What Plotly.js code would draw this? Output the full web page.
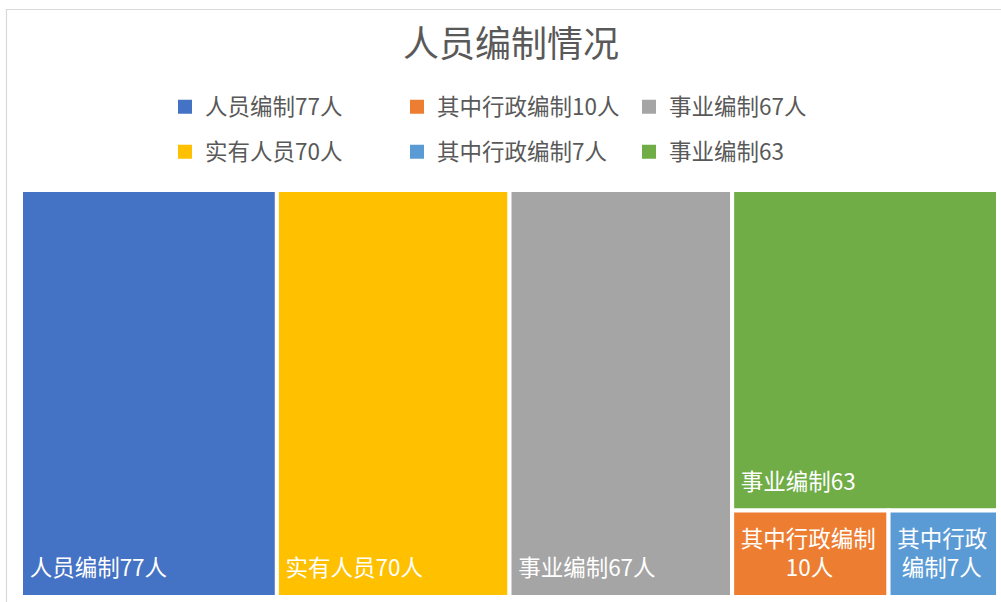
<!DOCTYPE html>
<html>
<head>
<meta charset="utf-8">
<script src="https://cdn.plot.ly/plotly-3.0.1.min.js"></script>
<style>
html,body{margin:0;padding:0;background:#fff;}
#chart{width:1001px;height:602px;}
</style>
</head>
<body>
<div id="chart"></div>
<script>
// ---- data ----
const labels = ['人员编制77人', '其中行政编制10人', '事业编制67人', '实有人员70人', '其中行政编制7人', '事业编制63'];
const values = [77, 10, 67, 70, 7, 63];
// tile label lines (long labels wrap in small tiles)
const tileLines = [['人员编制77人'], ['其中行政编制', '10人'], ['事业编制67人'], ['实有人员70人'], ['其中行政', '编制7人'], ['事业编制63']];
const colors = ['#4472C4', '#ED7D31', '#A5A5A5', '#FFC000', '#5B9BD5', '#70AD47'];
const titleText = '人员编制情况';

const FONT = '"Noto Sans CJK SC", "Microsoft YaHei", sans-serif';
const NB = '\u00A0';
const LABEL_PX = 22.5;

// measure text to centre wrapped lines (Excel centres wrapped labels)
const ctx = document.createElement('canvas').getContext('2d');
ctx.font = LABEL_PX + 'px ' + FONT;
const thin = '\u2009';
const thinW = ctx.measureText(thin).width || 4;
function centred(lines) {
  if (lines.length < 2) return lines;
  const ws = lines.map(l => ctx.measureText(l).width);
  const maxW = Math.max.apply(null, ws);
  return lines.map((l, i) => thin.repeat(Math.round((maxW - ws[i]) / 2 / thinW)) + l);
}
const tileText = tileLines.map(lines =>
  centred(lines).map(l => '<span style="font-size:' + LABEL_PX + 'px">\u2005' + l + '</span>').join('<br>' + NB + '<br>') + '<br>' + NB
);

const traces = [];
traces.push({
  type: 'treemap',
  labels: labels,
  parents: labels.map(() => ''),
  values: values,
  text: tileText,
  texttemplate: '%{text}',
  textposition: 'bottom left',
  sort: true,
  branchvalues: 'total',
  marker: {colors: colors, line: {color: '#ffffff', width: 4}, pad: {t: 0, l: 0, r: 0, b: 0}},
  tiling: {packing: 'squarify', squarifyratio: 1, pad: 0},
  pathbar: {visible: false},
  textfont: {family: FONT, size: 11.4, color: '#ffffff'},
  insidetextfont: {family: FONT, size: 11.4, color: '#ffffff'},
  domain: {x: [21 / 1001, 998 / 1001], y: [1 - 597 / 602, 1 - 190 / 602]},
  hoverinfo: 'label+value',
  showlegend: false
});

labels.forEach((name, i) => {
  traces.push({
    type: 'scatter', mode: 'markers',
    x: [null], y: [null],
    name: name,
    marker: {symbol: 'square', size: 14, color: colors[i]},
    legend: i < 3 ? 'legend' : 'legend2',
    showlegend: true,
    hoverinfo: 'skip'
  });
});

const legendBase = {
  orientation: 'h',
  entrywidth: 187, entrywidthmode: 'pixels',
  xanchor: 'left', yanchor: 'middle',
  x: 165 / 1001,
  font: {family: FONT, size: 22.5, color: '#595959'},
  bgcolor: 'rgba(0,0,0,0)',
  borderwidth: 0,
  itemclick: false, itemdoubleclick: false
};

const layout = {
  width: 1001, height: 602,
  margin: {l: 0, r: 0, t: 0, b: 0},
  paper_bgcolor: '#ffffff', plot_bgcolor: '#ffffff',
  title: {text: titleText, x: 511 / 1001, xanchor: 'center', y: 1 - 44 / 602, yanchor: 'middle',
          font: {family: FONT, size: 36, color: '#595959'}},
  xaxis: {visible: false}, yaxis: {visible: false},
  legend: Object.assign({}, legendBase, {y: 1 - 107 / 602}),
  legend2: Object.assign({}, legendBase, {y: 1 - 152 / 602}),
  shapes: [{type: 'rect', xref: 'paper', yref: 'paper', x0: 6.5 / 1001, x1: 1.05, y0: -0.05, y1: 1 - 9.5 / 602,
            line: {color: '#D9D9D9', width: 1.2}, fillcolor: 'rgba(0,0,0,0)', layer: 'below'}]
};

Plotly.newPlot('chart', traces, layout, {displayModeBar: false, staticPlot: true});
</script>
</body>
</html>
